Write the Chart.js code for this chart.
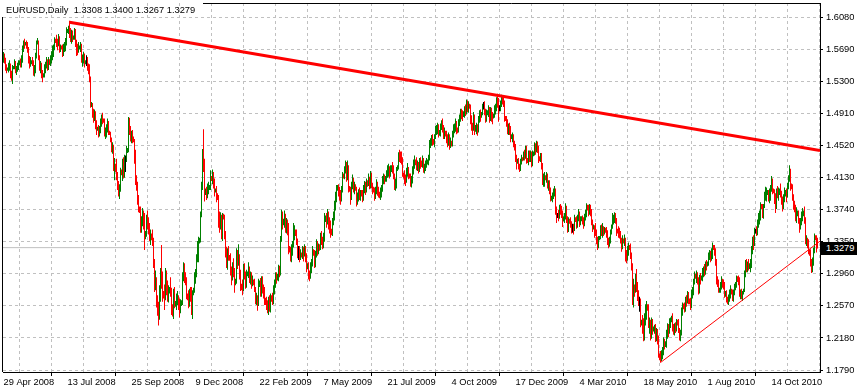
<!DOCTYPE html>
<html>
<head>
<meta charset="utf-8">
<script src="https://cdn.jsdelivr.net/npm/chart.js"></script>
<style>
  html, body { margin: 0; padding: 0; background: #ffffff; overflow: hidden; }
  #wrap { position: relative; width: 860px; height: 389px; }
  #c { position: absolute; left: 0; top: 0; }
  #title { position: absolute; left: 6px; top: 4px; font: 9.3px 'Liberation Sans', Arial, sans-serif; color: #000; white-space: pre; line-height: 12px; }
  #plabel { position: absolute; left: 821px; width: 36px; height: 13px; background: #000; color: #fff;
            font: 9.3px 'Liberation Sans', Arial, sans-serif; line-height: 13px; padding-left: 5px; box-sizing: border-box; white-space: pre; }
</style>
</head>
<body>
<div id="wrap">
  <canvas id="c" width="860" height="389"></canvas>
  <div id="title"></div>
  <div id="plabel"></div>
</div>
<script>
// ---------------- data (prices in thousandths) ----------------
const symbol = 'EURUSD';
const timeframe = 'Daily';
const lastQuote = [1.3308, 1.3400, 1.3267, 1.3279]; // open, high, low, close of the last bar
const firstOpen = 1.556;
const priceScale = 1000;

const highs = [
1566,1564,1559,1551,1547,1553,1556,1552,1543,1550,
1549,1557,1555,1549,1553,1556,1556,1558,1562,1574,
1580,1582,1578,1580,1578,1572,1561,1560,1556,1560,
1556,1550,1565,1580,1583,1580,1562,1555,1553,1544,
1540,1551,1554,1560,1557,1560,1557,1562,1567,1574,
1575,1584,1582,1587,1582,1588,1585,1575,1574,1575,
1576,1578,1583,1596,1594,1598,1604,1595,1593,1592,
1586,1595,1594,1581,1576,1578,1574,1578,1576,1563,
1566,1564,1556,1562,1560,1552,1551,1536,1505,1504,
1497,1496,1494,1483,1475,1477,1476,1485,1490,1492,
1485,1485,1474,1478,1485,1482,1470,1469,1462,1456,
1453,1437,1430,1436,1420,1409,1405,1425,1423,1436,
1438,1441,1440,1452,1449,1487,1486,1476,1470,1471,
1463,1460,1447,1416,1408,1392,1378,1378,1366,1376,
1373,1370,1348,1368,1373,1365,1358,1350,1345,1350,
1340,1314,1300,1292,1270,1262,1282,1303,1331,1299,
1275,1283,1303,1300,1288,1282,1280,1292,1279,1259,
1278,1280,1263,1272,1275,1270,1266,1265,1264,1298,
1310,1309,1298,1292,1272,1276,1278,1280,1280,1276,
1279,1298,1302,1320,1336,1341,1340,1372,1408,1448,
1472,1436,1400,1402,1406,1408,1404,1422,1415,1423,
1420,1412,1400,1403,1394,1392,1372,1371,1368,1370,
1369,1368,1348,1329,1327,1330,1319,1321,1305,1310,
1315,1303,1290,1327,1325,1332,1320,1301,1284,1289,
1308,1309,1299,1301,1299,1310,1305,1299,1298,1294,
1289,1290,1280,1273,1270,1290,1288,1291,1293,1293,
1283,1280,1267,1268,1264,1268,1270,1272,1270,1273,
1282,1289,1298,1298,1296,1307,1306,1342,1374,1372,
1363,1373,1369,1364,1362,1358,1330,1329,1332,1336,
1358,1355,1350,1350,1339,1330,1330,1326,1322,1330,
1329,1332,1330,1321,1309,1310,1300,1310,1314,1330,
1326,1325,1324,1338,1336,1333,1332,1346,1348,1341,
1346,1370,1367,1370,1375,1372,1365,1361,1351,1364,
1372,1385,1396,1404,1404,1405,1402,1398,1403,1420,
1418,1427,1434,1432,1434,1428,1403,1402,1408,1417,
1413,1408,1405,1402,1395,1399,1401,1398,1398,1398,
1404,1409,1408,1412,1410,1418,1414,1421,1419,1407,
1402,1401,1402,1411,1408,1402,1396,1401,1404,1415,
1418,1417,1415,1422,1428,1430,1427,1428,1428,1432,
1428,1418,1412,1426,1428,1444,1447,1445,1445,1438,
1419,1422,1417,1425,1431,1426,1418,1418,1415,1427,
1435,1440,1435,1438,1434,1432,1437,1438,1434,1440,
1437,1430,1434,1437,1435,1441,1459,1461,1465,1466,
1460,1466,1476,1477,1480,1478,1471,1479,1483,1485,
1477,1474,1470,1470,1466,1468,1466,1462,1458,1470,
1478,1479,1485,1482,1474,1484,1490,1497,1497,1495,
1494,1500,1502,1508,1507,1506,1503,1502,1489,1480,
1493,1490,1477,1480,1478,1488,1495,1496,1493,1503,
1505,1506,1497,1496,1495,1501,1499,1499,1498,1493,
1491,1501,1503,1511,1515,1510,1501,1507,1514,1513,
1512,1507,1488,1488,1484,1479,1480,1476,1466,1468,
1466,1458,1454,1441,1436,1437,1430,1436,1441,1438,
1445,1447,1452,1452,1437,1446,1446,1446,1445,1446,
1445,1456,1455,1458,1457,1452,1439,1443,1443,1431,
1418,1420,1416,1420,1418,1410,1410,1401,1391,1395,
1400,1403,1400,1378,1370,1374,1380,1381,1379,1373,
1366,1370,1382,1379,1366,1365,1363,1365,1360,1357,
1357,1368,1365,1366,1368,1375,1372,1366,1366,1367,
1365,1369,1374,1382,1380,1380,1381,1380,1375,1362,
1356,1355,1358,1350,1341,1342,1342,1355,1356,1358,
1354,1353,1352,1353,1349,1340,1341,1350,1356,1370,
1368,1371,1370,1364,1351,1354,1352,1348,1340,1343,
1339,1344,1340,1325,1330,1334,1331,1333,1322,1309,
1290,1283,1296,1302,1286,1276,1268,1266,1240,1246,
1242,1248,1259,1263,1259,1259,1243,1240,1243,1241,
1232,1234,1235,1230,1229,1221,1199,1202,1203,1207,
1219,1217,1214,1228,1236,1235,1242,1243,1245,1248,
1235,1236,1237,1241,1240,1241,1230,1228,1255,1261,
1260,1261,1268,1270,1275,1274,1266,1267,1277,1280,
1290,1299,1296,1300,1298,1292,1295,1297,1294,1303,
1305,1308,1311,1313,1311,1322,1325,1324,1327,1334,
1331,1331,1327,1314,1293,1289,1279,1286,1293,1290,
1289,1286,1275,1276,1268,1271,1277,1282,1278,1277,
1277,1284,1286,1294,1293,1294,1292,1277,1278,1275,
1278,1300,1313,1314,1311,1314,1309,1314,1330,1341,
1343,1352,1351,1354,1362,1370,1373,1383,1381,1381,
1381,1396,1402,1401,1398,1398,1400,1404,1415,1412,
1400,1399,1394,1400,1403,1401,1400,1406,1397,1390,
1393,1401,1398,1400,1407,1416,1428,1424,1406,1405,
1393,1385,1380,1377,1373,1373,1364,1364,1372,1376,
1373,1378,1365,1343,1340,1338,1326,1326,1314,1316,
1328,1345,1343,1343
];

const lows = [
1553,1552,1543,1540,1543,1541,1543,1534,1531,1527,
1545,1545,1540,1538,1542,1544,1550,1547,1547,1553,
1566,1570,1574,1570,1565,1552,1546,1548,1551,1549,
1537,1536,1540,1558,1575,1556,1543,1540,1534,1529,
1535,1535,1540,1546,1543,1544,1550,1549,1552,1556,
1560,1568,1577,1572,1568,1573,1565,1566,1569,1560,
1561,1566,1567,1574,1589,1588,1583,1578,1576,1578,
1581,1581,1572,1561,1562,1565,1569,1566,1553,1548,
1552,1547,1551,1549,1543,1539,1529,1498,1499,1486,
1480,1482,1472,1465,1470,1462,1463,1467,1475,1478,
1480,1463,1460,1462,1468,1465,1465,1456,1444,1442,
1421,1410,1420,1410,1398,1390,1387,1396,1416,1409,
1412,1413,1420,1432,1443,1444,1465,1457,1455,1455,
1456,1430,1404,1397,1380,1371,1370,1346,1346,1354,
1350,1325,1338,1341,1350,1344,1336,1331,1337,1330,
1303,1274,1276,1255,1245,1233,1240,1262,1278,1262,
1266,1252,1264,1270,1262,1261,1272,1268,1246,1244,
1241,1254,1256,1252,1258,1252,1243,1248,1257,1258,
1287,1285,1282,1265,1264,1254,1256,1262,1246,1241,
1270,1273,1284,1292,1310,1310,1333,1334,1365,1398,
1420,1384,1392,1386,1388,1393,1398,1398,1409,1405,
1400,1390,1395,1383,1386,1352,1346,1350,1338,1336,
1362,1338,1316,1303,1301,1312,1312,1294,1282,1288,
1292,1273,1282,1284,1302,1306,1289,1275,1276,1270,
1275,1289,1278,1279,1293,1291,1285,1283,1278,1281,
1282,1274,1259,1258,1251,1257,1280,1268,1268,1272,
1266,1258,1258,1252,1248,1246,1250,1249,1262,1258,
1259,1271,1279,1284,1288,1287,1292,1294,1335,1350,
1355,1352,1346,1345,1343,1320,1322,1311,1310,1318,
1328,1337,1342,1331,1315,1313,1310,1313,1316,1314,
1311,1317,1310,1298,1302,1289,1287,1290,1297,1305,
1318,1303,1304,1316,1318,1320,1324,1325,1331,1326,
1327,1335,1359,1352,1356,1350,1345,1340,1343,1342,
1355,1361,1373,1383,1397,1390,1385,1380,1384,1395,
1412,1411,1418,1408,1410,1395,1396,1380,1386,1399,
1395,1393,1397,1378,1380,1384,1386,1385,1390,1383,
1385,1394,1392,1395,1402,1403,1399,1400,1400,1393,
1395,1385,1387,1393,1391,1389,1388,1386,1389,1396,
1405,1405,1408,1408,1413,1414,1412,1414,1420,1418,
1411,1398,1397,1400,1421,1423,1432,1431,1429,1414,
1412,1405,1403,1407,1414,1411,1412,1402,1401,1406,
1417,1424,1428,1422,1421,1418,1420,1424,1426,1425,
1419,1418,1421,1425,1429,1428,1434,1449,1452,1452,
1453,1450,1460,1465,1466,1462,1464,1463,1471,1468,
1460,1460,1463,1455,1450,1452,1447,1449,1451,1451,
1462,1467,1469,1466,1467,1468,1476,1481,1484,1482,
1487,1486,1488,1490,1493,1492,1497,1478,1470,1465,
1470,1465,1469,1466,1464,1468,1480,1481,1486,1489,
1496,1489,1480,1481,1489,1487,1480,1482,1481,1478,
1485,1486,1490,1494,1498,1481,1494,1494,1499,1502,
1499,1481,1482,1475,1466,1465,1465,1456,1460,1456,
1450,1446,1432,1423,1430,1423,1420,1421,1429,1433,
1434,1434,1436,1430,1431,1428,1432,1432,1426,1427,
1439,1440,1441,1444,1443,1431,1433,1432,1423,1404,
1402,1402,1410,1407,1400,1397,1393,1384,1385,1383,
1387,1390,1368,1358,1364,1360,1363,1368,1364,1353,
1360,1358,1362,1358,1346,1347,1357,1352,1345,1346,
1344,1348,1359,1351,1352,1360,1353,1355,1360,1356,
1351,1354,1361,1365,1373,1366,1368,1366,1355,1347,
1350,1340,1342,1332,1325,1327,1337,1338,1342,1340,
1342,1344,1346,1340,1331,1327,1329,1333,1344,1351,
1356,1358,1357,1342,1345,1340,1339,1333,1323,1326,
1333,1330,1311,1309,1312,1318,1325,1314,1300,1258,
1255,1268,1273,1274,1263,1257,1250,1231,1233,1223,
1214,1215,1233,1240,1251,1230,1223,1215,1217,1222,
1226,1223,1213,1214,1210,1194,1191,1188,1190,1192,
1197,1204,1207,1206,1217,1219,1223,1230,1237,1226,
1222,1221,1224,1226,1233,1224,1215,1214,1221,1245,
1253,1249,1250,1256,1260,1259,1259,1252,1254,1266,
1270,1283,1290,1285,1283,1271,1272,1283,1288,1287,
1292,1293,1295,1300,1305,1306,1313,1310,1312,1314,
1325,1318,1306,1283,1280,1273,1273,1273,1277,1279,
1277,1267,1268,1261,1259,1258,1262,1266,1271,1263,
1262,1270,1276,1279,1286,1282,1268,1265,1265,1263,
1271,1274,1292,1298,1298,1300,1302,1298,1303,1320,
1325,1330,1345,1342,1343,1352,1356,1361,1375,1364,
1363,1376,1385,1384,1392,1384,1382,1385,1396,1393,
1394,1381,1370,1375,1388,1385,1392,1389,1380,1372,
1375,1383,1390,1383,1389,1399,1408,1397,1399,1385,
1374,1371,1360,1358,1366,1357,1346,1350,1355,1360,
1366,1357,1332,1330,1327,1320,1318,1305,1297,1298,
1306,1321,1337,1322
];

const closes = [
1560,1556,1547,1544,1545,1548,1550,1538,1537,1546,
1548,1553,1543,1546,1548,1553,1554,1552,1556,1571,
1578,1576,1577,1574,1570,1556,1552,1554,1555,1553,
1544,1546,1561,1577,1578,1559,1546,1549,1540,1537,
1538,1546,1551,1553,1546,1555,1553,1557,1561,1563,
1571,1580,1579,1576,1575,1583,1569,1572,1571,1566,
1569,1574,1578,1590,1592,1595,1591,1584,1589,1583,
1584,1592,1577,1572,1570,1571,1572,1574,1557,1558,
1560,1552,1553,1553,1547,1546,1535,1501,1502,1492,
1487,1493,1479,1472,1473,1469,1470,1481,1486,1484,
1483,1467,1468,1473,1479,1469,1468,1460,1451,1452,
1427,1428,1424,1417,1405,1392,1400,1421,1420,1428,
1418,1436,1436,1445,1446,1480,1472,1462,1465,1461,
1459,1438,1410,1404,1384,1377,1374,1352,1361,1363,
1362,1340,1344,1362,1357,1355,1342,1343,1340,1335,
1311,1281,1289,1268,1258,1247,1272,1295,1291,1273,
1270,1268,1297,1282,1270,1274,1276,1275,1251,1249,
1270,1258,1260,1264,1265,1262,1252,1258,1261,1294,
1306,1295,1289,1270,1268,1261,1272,1270,1265,1272,
1276,1291,1297,1315,1330,1335,1336,1368,1402,1442,
1426,1393,1396,1391,1398,1400,1401,1413,1412,1418,
1408,1397,1398,1392,1390,1360,1359,1364,1345,1366,
1365,1344,1322,1310,1322,1317,1316,1300,1294,1302,
1300,1284,1286,1316,1315,1318,1294,1282,1280,1277,
1302,1296,1283,1295,1296,1301,1291,1293,1285,1288,
1286,1278,1266,1267,1260,1283,1285,1273,1287,1278,
1276,1265,1263,1258,1256,1262,1253,1266,1265,1264,
1277,1284,1294,1291,1292,1301,1298,1337,1367,1358,
1359,1364,1353,1357,1355,1328,1326,1317,1324,1332,
1348,1349,1346,1337,1320,1320,1318,1320,1319,1323,
1320,1326,1317,1304,1306,1293,1292,1302,1309,1325,
1322,1308,1320,1328,1327,1329,1328,1341,1337,1335,
1338,1362,1363,1359,1368,1360,1355,1348,1347,1360,
1366,1380,1390,1400,1401,1397,1393,1388,1398,1416,
1415,1420,1429,1416,1423,1401,1400,1390,1403,1411,
1400,1403,1401,1382,1390,1395,1391,1394,1393,1388,
1399,1403,1397,1408,1406,1410,1404,1417,1406,1400,
1399,1394,1397,1406,1398,1394,1393,1397,1399,1411,
1412,1411,1412,1418,1420,1421,1420,1424,1425,1424,
1416,1402,1405,1423,1425,1441,1440,1438,1434,1418,
1416,1413,1411,1419,1422,1418,1416,1406,1410,1422,
1431,1433,1432,1428,1429,1424,1432,1431,1430,1434,
1424,1425,1430,1431,1432,1436,1454,1457,1462,1458,
1457,1462,1471,1472,1474,1467,1468,1476,1479,1474,
1466,1467,1466,1461,1458,1463,1455,1456,1455,1467,
1473,1475,1478,1471,1470,1480,1486,1493,1491,1490,
1491,1497,1494,1502,1500,1501,1500,1484,1475,1473,
1489,1472,1473,1475,1470,1483,1491,1486,1490,1500,
1500,1494,1484,1491,1492,1496,1485,1496,1487,1486,
1488,1497,1498,1508,1505,1498,1498,1503,1510,1507,
1505,1486,1485,1480,1470,1475,1471,1462,1463,1464,
1454,1451,1436,1433,1434,1428,1424,1432,1437,1436,
1440,1438,1448,1436,1434,1442,1436,1442,1430,1441,
1442,1450,1448,1452,1449,1437,1436,1439,1428,1409,
1410,1414,1413,1414,1404,1405,1397,1387,1388,1392,
1396,1399,1373,1368,1368,1366,1375,1373,1369,1362,
1363,1364,1378,1363,1355,1361,1360,1356,1351,1351,
1350,1363,1362,1355,1364,1368,1357,1362,1363,1362,
1356,1366,1368,1378,1376,1375,1378,1373,1359,1353,
1354,1351,1347,1336,1330,1339,1340,1351,1348,1352,
1348,1350,1349,1345,1336,1334,1337,1346,1352,1361,
1363,1366,1362,1349,1348,1347,1343,1337,1333,1338,
1336,1338,1317,1315,1324,1330,1328,1318,1303,1265,
1277,1275,1291,1278,1270,1263,1263,1237,1238,1234,
1219,1242,1250,1257,1255,1235,1236,1220,1237,1227,
1229,1230,1222,1225,1217,1197,1195,1193,1197,1201,
1214,1211,1212,1222,1232,1227,1238,1239,1241,1230,
1227,1232,1229,1238,1237,1228,1222,1223,1251,1257,
1256,1255,1264,1262,1271,1264,1263,1257,1273,1274,
1286,1294,1293,1295,1289,1275,1291,1290,1291,1299,
1300,1299,1307,1306,1308,1319,1321,1315,1322,1328,
1327,1322,1313,1288,1285,1276,1277,1282,1287,1284,
1283,1271,1272,1264,1262,1266,1271,1276,1275,1266,
1272,1280,1282,1290,1289,1288,1272,1274,1269,1271,
1275,1297,1310,1302,1307,1305,1306,1308,1325,1335,
1334,1348,1348,1347,1358,1364,1365,1379,1378,1368,
1378,1391,1393,1395,1396,1391,1394,1398,1410,1398,
1397,1392,1378,1395,1394,1395,1396,1393,1386,1378,
1390,1394,1395,1394,1402,1412,1421,1403,1402,1389,
1378,1374,1368,1369,1370,1361,1353,1359,1367,1368,
1370,1362,1337,1338,1334,1324,1322,1311,1300,1309,
1322,1341,1340,1331
];

// time axis: a label every 64 bars, a grid line every 32 bars
const dateLabels = ['29 Apr 2008','13 Jul 2008','25 Sep 2008','9 Dec 2008','22 Feb 2009','7 May 2009',
  '21 Jul 2009','4 Oct 2009','17 Dec 2009','4 Mar 2010','18 May 2010','1 Aug 2010','14 Oct 2010'];
const labelBars = [0,64,128,192,256,320,384,448,512,576,640,704,768];
const gridBars = [0,32,64,96,128,160,192,224,256,288,320,352,384,416,448,480,512,544,576,608,640,672,704,736,768,800];

// price axis labels
const yTicks = [1.1790,1.2180,1.2570,1.2960,1.3350,1.3740,1.4130,1.4520,1.4910,1.5300,1.5690,1.6080];

// trend lines drawn on the chart: [bar, price] end points
const trendHigh = [[66, 1.6021], [816.5, 1.4461]];
const trendLow  = [[657, 1.1881], [816.5, 1.3358]];

// ---------------- build ----------------
const FONT = "'Liberation Sans', Arial, sans-serif";
const O = [], H = [], L = [], C = [];
for (let i = 0; i < closes.length; i++) {
  O.push(i === 0 ? firstOpen : closes[i - 1] / priceScale);
  H.push(highs[i] / priceScale);
  L.push(lows[i] / priceScale);
  C.push(closes[i] / priceScale);
}
O.push(lastQuote[0]); H.push(lastQuote[1]); L.push(lastQuote[2]); C.push(lastQuote[3]);

const barData = C.map((c, i) => ({ x: i, y: [L[i], H[i]] }));
const barColors = C.map((c, i) => c > O[i] + 1e-9 ? '#008000' : (c < O[i] - 1e-9 ? '#ff0000' : '#000000'));
const lastClose = lastQuote[3];

document.getElementById('title').textContent =
  symbol + ',' + timeframe + '  ' + lastQuote.map(v => v.toFixed(4)).join(' ');
document.getElementById('plabel').textContent = lastClose.toFixed(4);

const framePlugin = {
  id: 'frame',
  afterDraw(chart) {
    const { ctx, chartArea: a } = chart;
    ctx.save();
    ctx.strokeStyle = '#000';
    ctx.lineWidth = 1;
    ctx.beginPath();
    // the symbol caption sits over the top-left corner of the frame
    ctx.moveTo(a.left - 0.5, a.bottom);
    ctx.lineTo(a.left - 0.5, a.top + 14);
    ctx.moveTo(a.left + 200, a.top + 0.5);
    ctx.lineTo(a.right, a.top + 0.5);
    ctx.stroke();
    ctx.restore();
    const y = chart.scales.y.getPixelForValue(lastClose);
    document.getElementById('plabel').style.top = (Math.round(y) - 6) + 'px';
  }
};

new Chart(document.getElementById('c'), {
  type: 'bar',
  data: {
    datasets: [
      { type: 'line', data: [{ x: -0.5, y: lastClose }, { x: 816.5, y: lastClose }],
        borderColor: '#c0c0c0', borderWidth: 1, pointRadius: 0, fill: false, tension: 0, order: 3 },
      { type: 'bar', data: barData, backgroundColor: barColors, borderWidth: 0,
        barThickness: 1, inflateAmount: 0, order: 2 },
      { type: 'line', data: trendHigh.map(p => ({ x: p[0], y: p[1] })),
        borderColor: '#ff0000', borderWidth: 3, pointRadius: 0, fill: false, tension: 0, order: 1 },
      { type: 'line', data: trendLow.map(p => ({ x: p[0], y: p[1] })),
        borderColor: '#ff0000', borderWidth: 1, pointRadius: 0, fill: false, tension: 0, order: 1 }
    ]
  },
  options: {
    responsive: false,
    animation: false,
    devicePixelRatio: 1,
    events: [],
    layout: { padding: { left: 3, top: 3, right: 0, bottom: 0 }, autoPadding: false },
    plugins: { legend: { display: false }, tooltip: { enabled: false }, title: { display: false } },
    scales: {
      x: {
        type: 'linear', min: -0.5, max: 816.5, offset: false, position: 'bottom',
        afterBuildTicks: s => { s.ticks = gridBars.map(v => ({ value: v })); },
        afterFit: s => { s.height = 17; s.paddingLeft = 0; s.paddingRight = 0; s.paddingTop = 0; s.paddingBottom = 0; },
        ticks: {
          autoSkip: false, maxRotation: 0, minRotation: 0, align: 'start', padding: 1,
          color: '#000', font: { family: FONT, size: 9.3 },
          callback: v => { const k = labelBars.indexOf(v); return k >= 0 ? dateLabels[k] : ''; }
        },
        grid: {
          color: '#c0c0c0', lineWidth: 1, drawTicks: true, tickLength: 4,
          tickColor: ctx => (ctx.tick && labelBars.includes(ctx.tick.value)) ? '#000' : 'rgba(0,0,0,0)',
          tickBorderDash: []
        },
        border: { display: true, color: '#000', width: 1, dash: [3, 3] }
      },
      y: {
        type: 'linear', position: 'right', min: 1.17657, max: 1.62557,
        afterBuildTicks: s => { s.ticks = yTicks.map(v => ({ value: v })); },
        afterFit: s => { s.width = 40; s.paddingLeft = 0; s.paddingRight = 0; s.paddingTop = 0; s.paddingBottom = 0; },
        ticks: {
          autoSkip: false, padding: 3, color: '#000', font: { family: FONT, size: 9.3 },
          callback: v => Number(v).toFixed(4)
        },
        grid: { color: '#c0c0c0', lineWidth: 1, tickLength: 3, tickColor: '#000', tickBorderDash: [] },
        border: { display: true, color: '#000', width: 1, dash: [3, 3] }
      }
    }
  },
  plugins: [framePlugin]
});
</script>
</body>
</html>
